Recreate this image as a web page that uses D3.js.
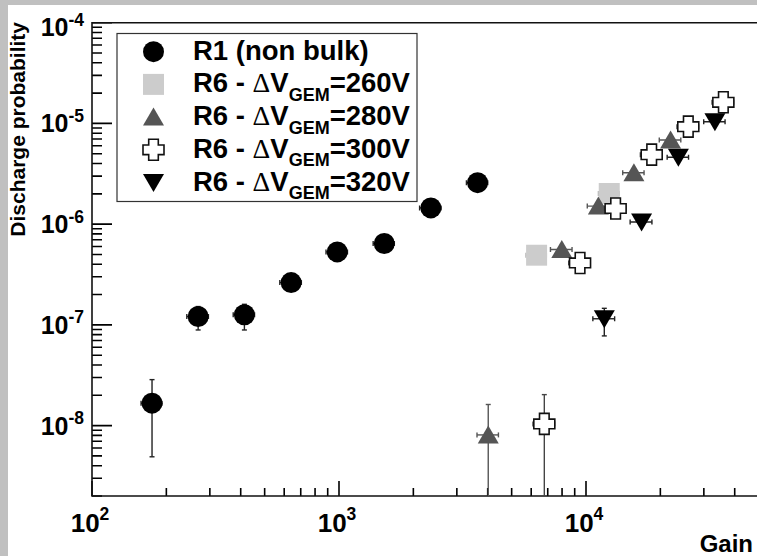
<!DOCTYPE html>
<html>
<head>
<meta charset="utf-8">
<script src="https://cdn.jsdelivr.net/npm/d3@7"></script>
<style>
  html, body { margin: 0; padding: 0; background: #c0c0c0; }
  svg { display: block; }
  text { font-family: "Liberation Sans", Arial, Helvetica, sans-serif; font-weight: bold; fill: #000; }
</style>
</head>
<body>
<svg id="chart" width="757" height="556"></svg>
<script>
// ---------------- data ----------------
const xMajorTicks = [1e2, 1e3, 1e4];
const xTickExps = ["2", "3", "4"];
const yMajorTicks = [1e-8, 1e-7, 1e-6, 1e-5, 1e-4];
const yTickExps = ["-8", "-7", "-6", "-5", "-4"];

const legendLabels = ["R1 (non bulk)", "260V", "280V", "300V", "320V"];

// R1 (non bulk)
const r1Gain   = [175, 269, 414, 640, 984, 1525, 2355, 3640];
const r1GainErr= [17, 27, 41, 64, 98, 150, 235, 360];
const r1Prob   = [1.67e-8, 1.21e-7, 1.26e-7, 2.63e-7, 5.3e-7, 6.43e-7, 1.45e-6, 2.58e-6];
const r1ProbHi = [2.86e-8, 1.52e-7, 1.60e-7, 2.8e-7, 5.6e-7, 6.8e-7, 1.52e-6, 2.7e-6];
const r1ProbLo = [4.9e-9, 8.9e-8, 8.9e-8, 2.45e-7, 5.0e-7, 6.1e-7, 1.38e-6, 2.46e-6];

// R6 - dV_GEM = 260 V
const g260Gain   = [6310, 12420];
const g260GainErr= [600, 1200];
const g260Prob   = [4.92e-7, 2.02e-6];
const g260ProbHi = [5.4e-7, 2.2e-6];
const g260ProbLo = [4.4e-7, 1.85e-6];

// R6 - dV_GEM = 280 V
const g280Gain   = [4020, 7980, 11220, 15630, 22000];
const g280GainErr= [400, 800, 1100, 1550, 2200];
const g280Prob   = [8.08e-9, 5.6e-7, 1.51e-6, 3.24e-6, 6.85e-6];
const g280ProbHi = [1.62e-8, 6.0e-7, 1.6e-6, 3.4e-6, 7.2e-6];
const g280ProbLo = [0, 5.2e-7, 1.42e-6, 3.08e-6, 6.5e-6];

// R6 - dV_GEM = 300 V
const g300Gain   = [6780, 9460, 13180, 18450, 25950, 35980];
const g300GainErr= [680, 950, 1300, 1850, 2600, 3600];
const g300Prob   = [1.04e-8, 4.12e-7, 1.43e-6, 4.9e-6, 9.29e-6, 1.62e-5];
const g300ProbHi = [2.03e-8, 4.4e-7, 1.52e-6, 5.15e-6, 9.7e-6, 1.7e-5];
const g300ProbLo = [0, 3.85e-7, 1.35e-6, 4.65e-6, 8.9e-6, 1.54e-5];

// R6 - dV_GEM = 320 V
const g320Gain   = [11860, 16790, 23660, 33260];
const g320GainErr= [1200, 1700, 2350, 3300];
const g320Prob   = [1.15e-7, 1.05e-6, 4.61e-6, 1.04e-5];
const g320ProbHi = [1.46e-7, 1.12e-6, 4.85e-6, 1.09e-5];
const g320ProbLo = [7.77e-8, 0.98e-6, 4.4e-6, 0.99e-5];

// ---------------- drawing ----------------
(function () {
const svg = d3.select("#chart");
svg.append("rect").attr("x", 8).attr("y", 5).attr("width", 757).attr("height", 556).attr("fill", "#ffffff");

const pLeft = 92, pBottom = 496, pTop = 22.7;
const pRight = pLeft + 247 * Math.log10(500);
const xs = d3.scaleLog().domain([1e2, 5e4]).range([pLeft, pRight]);
const ys = d3.scaleLog().domain([2e-9, 1e-4]).range([pBottom, pTop]);

function majorTick(v) {
  const l = Math.log10(v);
  return Math.abs(l - Math.round(l)) < 1e-6;
}

svg.append("clipPath").attr("id", "plotclip")
  .append("rect").attr("x", pLeft).attr("y", pTop).attr("width", pRight - pLeft).attr("height", pBottom - pTop);

// ticks built from the scales
const xTickVals = xs.ticks(10);
const yTickVals = ys.ticks(10);
let xPath = "";
xTickVals.forEach(v => {
  const px = xs(v);
  const len = majorTick(v) ? 15 : 8;
  xPath += "M" + px.toFixed(2) + "," + pBottom + "L" + px.toFixed(2) + "," + (pBottom - len);
});
let yPath = "";
yTickVals.forEach(v => {
  const py = ys(v);
  const len = majorTick(v) ? 20 : 10;
  yPath += "M" + pLeft + "," + py.toFixed(2) + "L" + (pLeft + len) + "," + py.toFixed(2);
});
svg.append("path").attr("d", xPath).attr("fill", "none").attr("stroke", "#000").attr("stroke-width", 1.6);
svg.append("path").attr("d", yPath).attr("fill", "none").attr("stroke", "#000").attr("stroke-width", 1.6);

// frame lines: top, left, bottom
svg.append("path")
  .attr("d", `M${pRight},${pTop}L${pLeft},${pTop}L${pLeft},${pBottom}L${pRight},${pBottom}`)
  .attr("fill", "none").attr("stroke", "#111").attr("stroke-width", 1.6);

xMajorTicks.forEach((v, i) => {
  const t = svg.append("text").attr("x", xs(v) - 2).attr("y", 531.5).attr("text-anchor", "middle")
    .style("font-size", "26px");
  t.append("tspan").text("10");
  t.append("tspan").attr("dy", -12).style("font-size", "17.5px").text(xTickExps[i]);
});

yMajorTicks.forEach((v, i) => {
  const yy = Math.max(ys(v) + 9, 36);
  const t = svg.append("text").attr("x", 84).attr("y", yy).attr("text-anchor", "end")
    .style("font-size", "25px");
  t.append("tspan").text("10");
  t.append("tspan").attr("dy", -10.5).style("font-size", "17.5px").text(yTickExps[i]);
});

// axis titles
svg.append("text").attr("transform", "translate(25,22) rotate(-90)").attr("text-anchor", "end")
  .style("font-size", "21px").text("Discharge probability");
svg.append("text").attr("x", 753).attr("y", 552).attr("text-anchor", "end").style("font-size", "24px").text("Gain");

function markerPath(type) {
  const s = 10.5;
  if (type === "square") return `M${-s},${-s}H${s}V${s}H${-s}Z`;
  if (type === "up") return `M0,${-9.5}L${10.5},${8.5}L${-10.5},${8.5}Z`;
  if (type === "down") return `M0,${9.5}L${10.5},${-8.5}L${-10.5},${-8.5}Z`;
  const a = 4.8;
  return `M${-a},${-s}H${a}V${-a}H${s}V${a}H${a}V${s}H${-a}V${a}H${-s}V${-a}H${-a}Z`;
}
function drawMarker(g, type, cx, cy, fill, stroke) {
  if (type === "circle") {
    g.append("circle").attr("cx", cx).attr("cy", cy).attr("r", 10.5).attr("fill", fill);
  } else {
    g.append("path").attr("d", markerPath(type)).attr("transform", `translate(${cx},${cy})`)
      .attr("fill", fill).attr("stroke", stroke || "none").attr("stroke-width", stroke ? 1.6 : 0);
  }
}

const series = [
  { gain: r1Gain, gerr: r1GainErr, p: r1Prob, hi: r1ProbHi, lo: r1ProbLo, type: "circle", fill: "#000", stroke: null, ecol: "#222" },
  { gain: g260Gain, gerr: g260GainErr, p: g260Prob, hi: g260ProbHi, lo: g260ProbLo, type: "square", fill: "#cccccc", stroke: null, ecol: "#bbbbbb" },
  { gain: g280Gain, gerr: g280GainErr, p: g280Prob, hi: g280ProbHi, lo: g280ProbLo, type: "up", fill: "#555555", stroke: null, ecol: "#555555" },
  { gain: g300Gain, gerr: g300GainErr, p: g300Prob, hi: g300ProbHi, lo: g300ProbLo, type: "cross", fill: "#ffffff", stroke: "#111", ecol: "#444" },
  { gain: g320Gain, gerr: g320GainErr, p: g320Prob, hi: g320ProbHi, lo: g320ProbLo, type: "down", fill: "#000", stroke: null, ecol: "#222" },
];

const plot = svg.append("g").attr("clip-path", "url(#plotclip)");
series.forEach(s => {
  const g = plot.append("g");
  s.gain.forEach((gv, i) => {
    const cx = xs(gv), cy = ys(s.p[i]);
    const xl = xs(gv - s.gerr[i]), xr = xs(gv + s.gerr[i]);
    const yt = ys(s.hi[i]);
    const yb = s.lo[i] > 0 ? ys(s.lo[i]) : pBottom + 5;
    const e = g.append("g").attr("stroke", s.ecol).attr("stroke-width", 1.4).attr("fill", "none");
    e.append("line").attr("x1", xl).attr("x2", xr).attr("y1", cy).attr("y2", cy);
    e.append("line").attr("x1", xl).attr("x2", xl).attr("y1", cy - 2.5).attr("y2", cy + 2.5);
    e.append("line").attr("x1", xr).attr("x2", xr).attr("y1", cy - 2.5).attr("y2", cy + 2.5);
    e.append("line").attr("x1", cx).attr("x2", cx).attr("y1", yt).attr("y2", yb);
    e.append("line").attr("x1", cx - 2.5).attr("x2", cx + 2.5).attr("y1", yt).attr("y2", yt);
    if (s.lo[i] > 0) e.append("line").attr("x1", cx - 2.5).attr("x2", cx + 2.5).attr("y1", yb).attr("y2", yb);
    drawMarker(g, s.type, cx, cy, s.fill, s.stroke);
  });
});

// legend
const lg = svg.append("g");
lg.append("rect").attr("x", 117).attr("y", 33.5).attr("width", 300).attr("height", 168)
  .attr("fill", "#fff").attr("stroke", "#333").attr("stroke-width", 1.2);
const rowY = [51.7, 84.4, 117.1, 149.8, 182.5];
series.forEach((s, i) => {
  drawMarker(lg, s.type, 153.5, rowY[i], s.fill, s.stroke);
  const t = lg.append("text").attr("x", 193).attr("y", rowY[i] + 8).style("font-size", "27.5px");
  if (i === 0) {
    t.text(legendLabels[0]);
  } else {
    t.append("tspan").text("R6 - ");
    t.append("tspan").style("font-family", "'Liberation Serif', serif").style("font-weight", "normal").text("\u0394");
    t.append("tspan").text("V");
    t.append("tspan").attr("dy", 8.5).style("font-size", "18px").text("GEM");
    t.append("tspan").attr("dy", -8.5).text("=" + legendLabels[i]);
  }
});
})();
</script>
</body>
</html>
